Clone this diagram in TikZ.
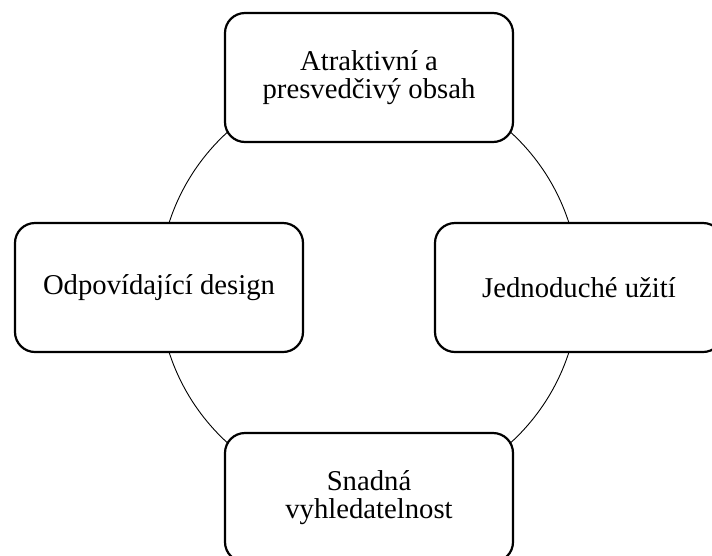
\documentclass[tikz,border=0pt]{standalone}
\usepackage{fontspec}
\setmainfont{Liberation Serif}
\usetikzlibrary{backgrounds}
\begin{document}
\begin{tikzpicture}[x=1pt,y=-1pt,
  item/.style={draw=black, line width=2.2pt, rounded corners=20pt, fill=white,
    minimum width=288pt, minimum height=129pt, inner sep=0pt, align=center,
    font=\fontsize{28.7}{28.5}\selectfont},
  link/.style={draw=black, line width=0.9pt}]
\useasboundingbox (0,0) rectangle (712,555);
\clip (0,0) rectangle (712,555);
\node[item] (top) at (369,77.5) {Atraktivní a\\presvedčivý obsah};
\node[item] (right) at (579,287.5) {Jednoduché užití};
\node[item] (bottom) at (369,497.5) {Snadná\\vyhledatelnost};
\node[item] (left) at (159,287.5) {Odpovídající design};
\begin{scope}[on background layer]
\draw[link] (top.center) to[bend left=45] (right.center);
\draw[link] (right.center) to[bend left=45] (bottom.center);
\draw[link] (bottom.center) to[bend left=45] (left.center);
\draw[link] (left.center) to[bend left=45] (top.center);
\end{scope}
\end{tikzpicture}
\end{document}
